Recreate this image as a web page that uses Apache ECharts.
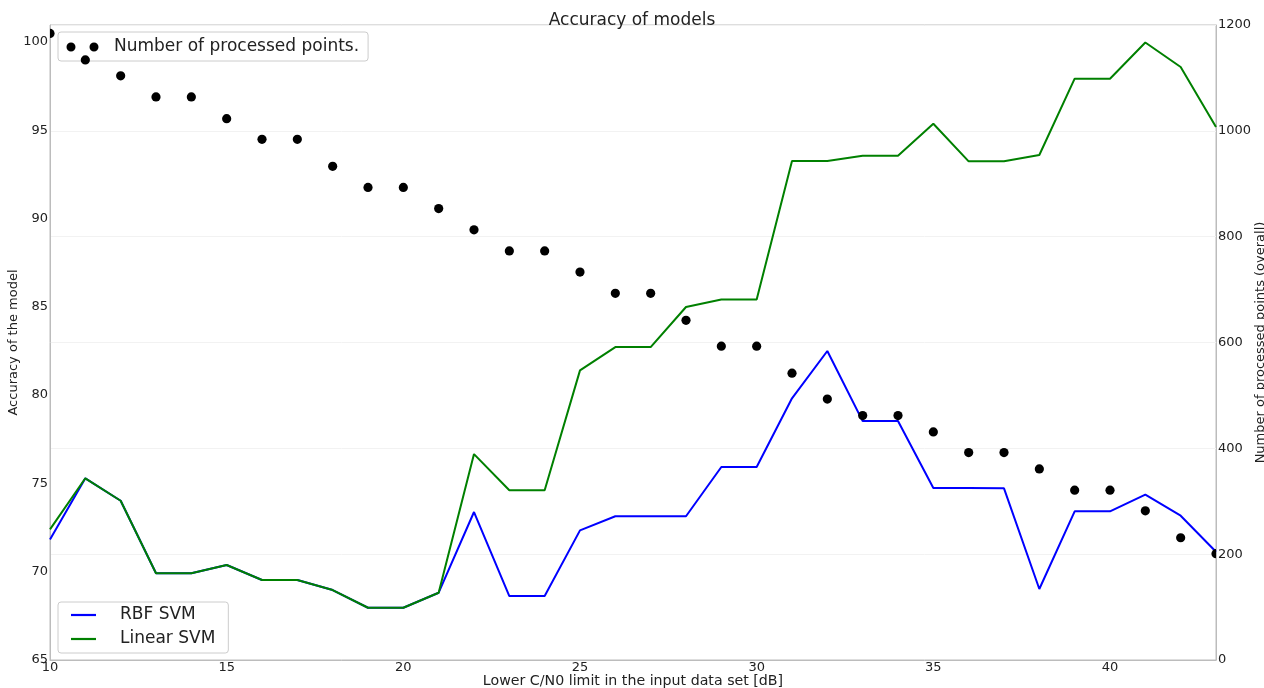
<!DOCTYPE html>
<html>
<head>
<meta charset="utf-8">
<script src="https://cdn.jsdelivr.net/npm/echarts@6/dist/echarts.min.js"></script>
<style>
  html, body { margin: 0; padding: 0; background: #fff; }
  #chart { width: 1264px; height: 688px; }
</style>
</head>
<body>
<div id="chart"></div>
<script>
// Lower C/N0 limit of the input data set [dB]
const cn0Limits = [10, 11, 12, 13, 14, 15, 16, 17, 18, 19, 20, 21, 22, 23, 24, 25, 26,
                   27, 28, 29, 30, 31, 32, 33, 34, 35, 36, 37, 38, 39, 40, 41, 42, 43];

// Model accuracy [%]
const rbfSvm = [71.83, 75.29, 74.02, 69.91, 69.91, 70.38, 69.53, 69.53, 68.96, 67.96, 67.96, 68.81,
                73.38, 68.62, 68.62, 72.34, 73.14, 73.14, 73.14, 75.93, 75.93, 79.82, 82.50, 78.53,
                78.53, 74.74, 74.74, 74.72, 69.02, 73.42, 73.42, 74.36, 73.17, 71.13];
const linearSvm = [72.40, 75.29, 74.02, 69.91, 69.91, 70.38, 69.53, 69.53, 68.96, 67.96, 67.96, 68.81,
                   76.66, 74.61, 74.61, 81.40, 82.72, 82.72, 84.99, 85.42, 85.42, 93.26, 93.26, 93.56,
                   93.56, 95.37, 93.24, 93.24, 93.60, 97.92, 97.92, 99.97, 98.58, 95.18];

// Number of processed points (overall)
const processedPoints = [1184, 1134, 1104, 1064, 1064, 1023, 984, 984, 933, 893, 893, 853,
                         813, 773, 773, 733, 693, 693, 642, 593, 593, 542, 493, 462,
                         462, 431, 392, 392, 361, 321, 321, 282, 231, 201];

const FONT = 'DejaVu Sans';
const AXIS_GREY = '#bcbcbc';
const TEXT = '#222';

const pairs = (xs, ys) => xs.map((x, i) => [x, ys[i]]);

// two dots side by side, used as the legend marker of the scatter series
const twoDots = 'path://M0,4.5a4.5,4.5 0 1,0 9,0a4.5,4.5 0 1,0 -9,0Z' +
                'M23,4.5a4.5,4.5 0 1,0 9,0a4.5,4.5 0 1,0 -9,0Z';

const chart = echarts.init(document.getElementById('chart'), null, { renderer: 'canvas' });

chart.setOption({
  animation: false,
  backgroundColor: '#ffffff',
  textStyle: { fontFamily: FONT },
  title: {
    text: 'Accuracy of models',
    left: 'center',
    top: 12,
    padding: 0,
    textStyle: { fontFamily: FONT, fontSize: 17, fontWeight: 'normal', color: TEXT }
  },
  grid: {
    left: 50, right: 48, top: 25, bottom: 28,
    outerBoundsMode: 'none',
    containLabel: false,
    show: true, borderColor: AXIS_GREY, borderWidth: 1, backgroundColor: 'transparent'
  },
  legend: [
    {
      data: [{ name: 'Number of processed points.', icon: twoDots, itemStyle: { color: '#000' } }],
      left: 58, top: 32,
      padding: [5, 9, 4, 8.5],
      itemWidth: 32, itemHeight: 9,
      backgroundColor: 'rgba(255,255,255,0.85)',
      borderColor: '#cccccc', borderWidth: 1, borderRadius: 3,
      textStyle: { fontFamily: FONT, fontSize: 17, lineHeight: 20, color: TEXT, padding: [0, 0, 0, 10.5] }
    },
    {
      data: [{ name: 'RBF SVM', icon: 'rect' }, { name: 'Linear SVM', icon: 'rect' }],
      orient: 'vertical',
      left: 58, top: 602,
      padding: [3, 13, 4, 13],
      itemGap: 4,
      itemWidth: 25, itemHeight: 2.2,
      itemStyle: { borderWidth: 0 },
      backgroundColor: 'rgba(255,255,255,0.85)',
      borderColor: '#cccccc', borderWidth: 1, borderRadius: 3,
      textStyle: { fontFamily: FONT, fontSize: 17, lineHeight: 20, color: TEXT, padding: [0, 0, 0, 19] }
    }
  ],
  xAxis: {
    type: 'value',
    min: 10, max: 43, interval: 5,
    name: 'Lower C/N0 limit in the input data set [dB]',
    nameLocation: 'middle', nameGap: 14, nameMoveOverlap: false,
    nameTextStyle: { fontFamily: FONT, fontSize: 14.2, color: TEXT },
    axisLine: { show: true, lineStyle: { color: AXIS_GREY, width: 1 } },
    axisTick: { show: false },
    splitLine: { show: false },
    axisLabel: { fontFamily: FONT, fontSize: 13, color: TEXT, margin: 1, showMaxLabel: false }
  },
  yAxis: [
    {
      type: 'value',
      position: 'left',
      min: 65, max: 100.96, interval: 5,
      name: 'Accuracy of the model',
      nameLocation: 'middle', nameGap: 30, nameRotate: 90, nameMoveOverlap: false,
      nameTextStyle: { fontFamily: FONT, fontSize: 13, color: TEXT },
      axisLine: { show: true, lineStyle: { color: AXIS_GREY, width: 1 } },
      axisTick: { show: false },
      splitLine: { show: false },
      axisLabel: { fontFamily: FONT, fontSize: 13, color: TEXT, margin: 2, showMaxLabel: false }
    },
    {
      type: 'value',
      position: 'right',
      min: 0, max: 1200, interval: 200,
      name: 'Number of processed points (overall)',
      nameLocation: 'middle', nameGap: 38, nameRotate: 90, nameMoveOverlap: false,
      nameTextStyle: { fontFamily: FONT, fontSize: 13, color: TEXT },
      axisLine: { show: true, lineStyle: { color: AXIS_GREY, width: 1 } },
      axisTick: { show: false },
      splitLine: { show: true, lineStyle: { color: '#f2f2f2', width: 1 } },
      axisLabel: { fontFamily: FONT, fontSize: 13, color: TEXT, margin: 2, formatter: v => String(v) }
    }
  ],
  series: [
    {
      name: 'RBF SVM',
      type: 'line',
      xAxisIndex: 0, yAxisIndex: 0,
      data: pairs(cn0Limits, rbfSvm),
      showSymbol: false, symbol: 'none',
      color: '#0000ff',
      lineStyle: { color: '#0000ff', width: 2 },
      clip: true, z: 2
    },
    {
      name: 'Linear SVM',
      type: 'line',
      xAxisIndex: 0, yAxisIndex: 0,
      data: pairs(cn0Limits, linearSvm),
      showSymbol: false, symbol: 'none',
      color: '#008000',
      lineStyle: { color: '#008000', width: 2 },
      clip: true, z: 3
    },
    {
      name: 'Number of processed points.',
      type: 'custom',
      xAxisIndex: 0, yAxisIndex: 1,
      data: pairs(cn0Limits, processedPoints),
      itemStyle: { color: '#000' },
      clip: true, z: 4,
      renderItem: (params, api) => {
        const p = api.coord([api.value(0), api.value(1)]);
        return { type: 'circle', shape: { cx: p[0], cy: p[1], r: 4.6 }, style: { fill: '#000' } };
      }
    }
  ]
});
</script>
</body>
</html>
